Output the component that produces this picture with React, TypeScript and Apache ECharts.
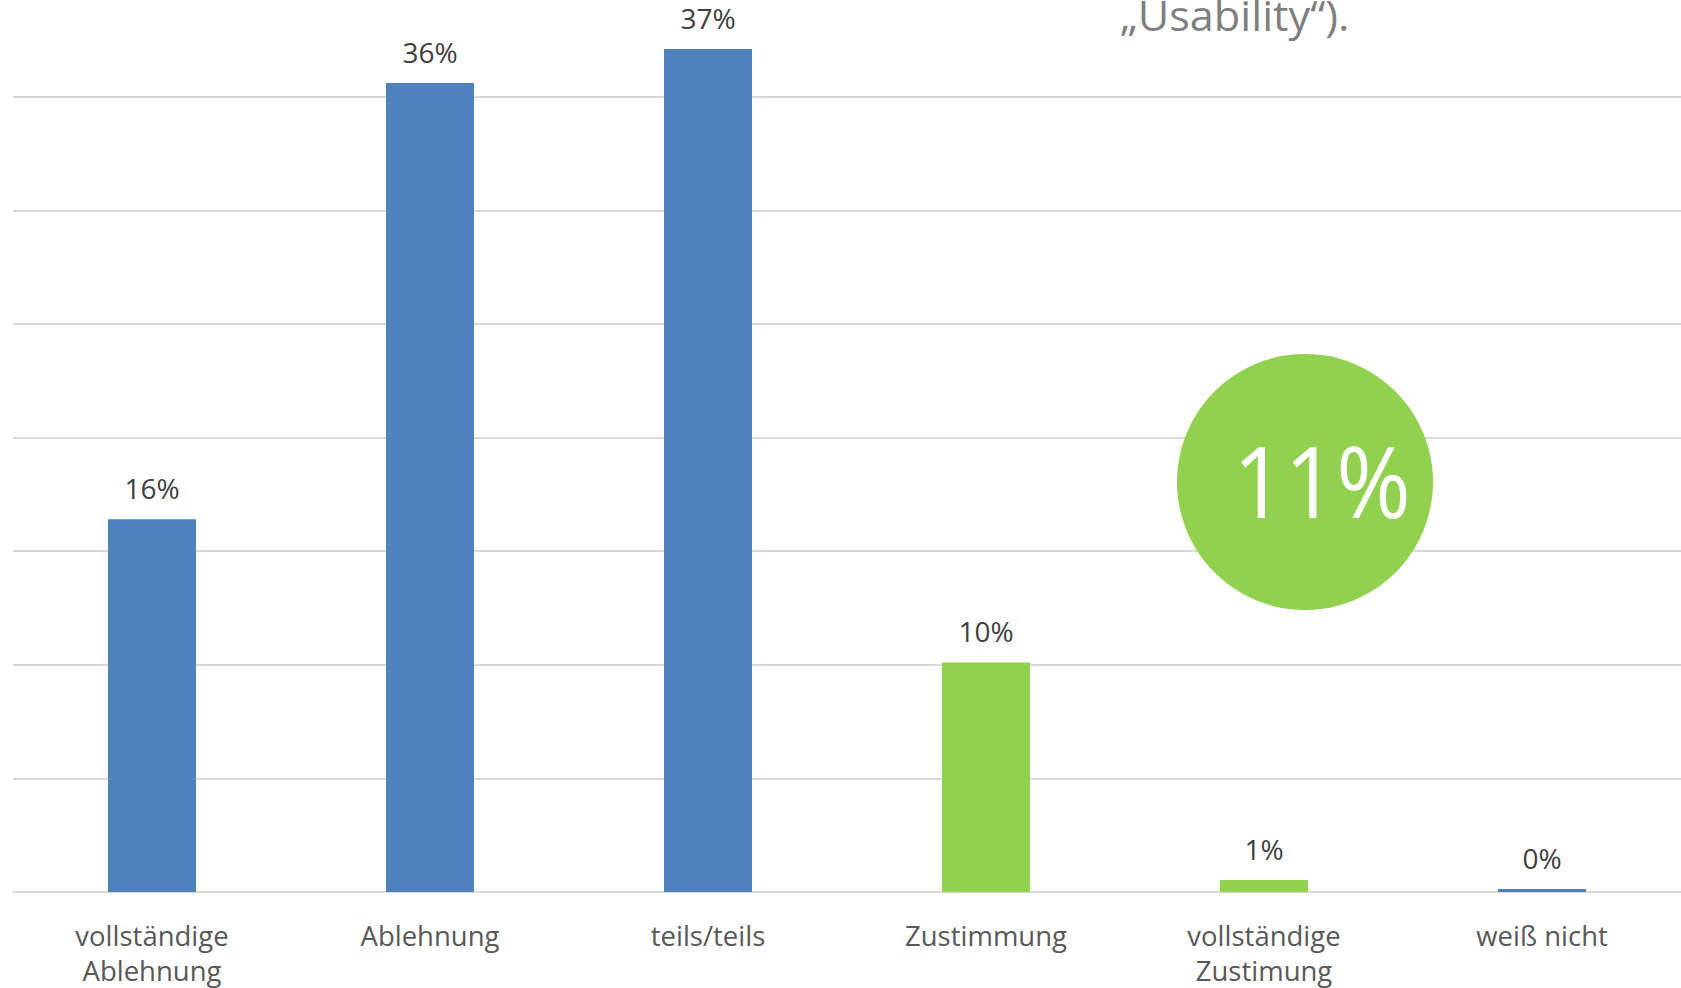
import React, { useEffect, useRef } from "react";
import * as echarts from "echarts";

const categories = [
  "vollständige\nAblehnung",
  "Ablehnung",
  "teils/teils",
  "Zustimmung",
  "vollständige\nZustimung",
  "weiß nicht",
];
const values = [16.4, 35.6, 37.1, 10.1, 0.53, 0.13];
const barColors = ["#4f81bd", "#4f81bd", "#4f81bd", "#92d050", "#92d050", "#4f81bd"];
const highlightLabel = "11%";
const titleTail = "\u201EUsability\u201C).";

const OFFSET = 17; // chart div starts above the page so that the 40% line is cropped

export default function App() {
  const ref = useRef<HTMLDivElement>(null);
  useEffect(() => {
    if (!ref.current) return;
    const chart = echarts.init(ref.current, undefined, { renderer: "svg" });
    const font = "'Open Sans', 'Noto Sans', sans-serif";
    chart.setOption({
      animation: false,
      backgroundColor: "#ffffff",
      grid: { left: 13, right: 0, top: 0, bottom: 94, containLabel: false },
      xAxis: {
        type: "category",
        data: categories,
        axisTick: { show: false },
        axisLine: { lineStyle: { color: "#d9d9d9", width: 2 } },
        axisLabel: {
          interval: 0,
          color: "#595959",
          fontFamily: font,
          fontSize: 27.5,
          lineHeight: 35,
          margin: 26,
        },
      },
      yAxis: {
        type: "value",
        min: 0,
        max: 40,
        interval: 5,
        axisLabel: { show: false },
        axisLine: { show: false },
        axisTick: { show: false },
        splitLine: { lineStyle: { color: "#d9d9d9", width: 2 } },
      },
      series: [
        {
          type: "bar",
          barWidth: 88,
          data: values.map((v, i) => ({ value: v, itemStyle: { color: barColors[i] } })),
          label: {
            show: true,
            position: "top",
            distance: 17,
            color: "#404040",
            fontFamily: font,
            fontSize: 28,
            lineHeight: 28,
            formatter: (p: any) => Math.round(p.value) + "%",
          },
        },
      ],
      graphic: [
        {
          type: "text",
          x: 1120,
          y: 14 + OFFSET,
          scaleX: 1.03,
          z: 100,
          style: {
            text: titleTail,
            fill: "#7f7f7f",
            font: `42px ${font}`,
            align: "left",
            verticalAlign: "middle",
          },
        },
        {
          type: "circle",
          z: 100,
          shape: { cx: 1305, cy: 482 + OFFSET, r: 128 },
          style: { fill: "#92d050" },
        },
        {
          type: "text",
          x: 1322,
          y: 480 + OFFSET,
          scaleX: 0.92,
          z: 101,
          style: {
            text: highlightLabel,
            fill: "#ffffff",
            font: `98px ${font}`,
            align: "center",
            verticalAlign: "middle",
          },
        },
      ],
    });
    return () => chart.dispose();
  }, []);
  return (
    <div
      ref={ref}
      style={{
        position: "fixed",
        left: 0,
        top: -OFFSET,
        width: 1681,
        height: 988 + OFFSET,
        background: "#fff",
      }}
    />
  );
}
